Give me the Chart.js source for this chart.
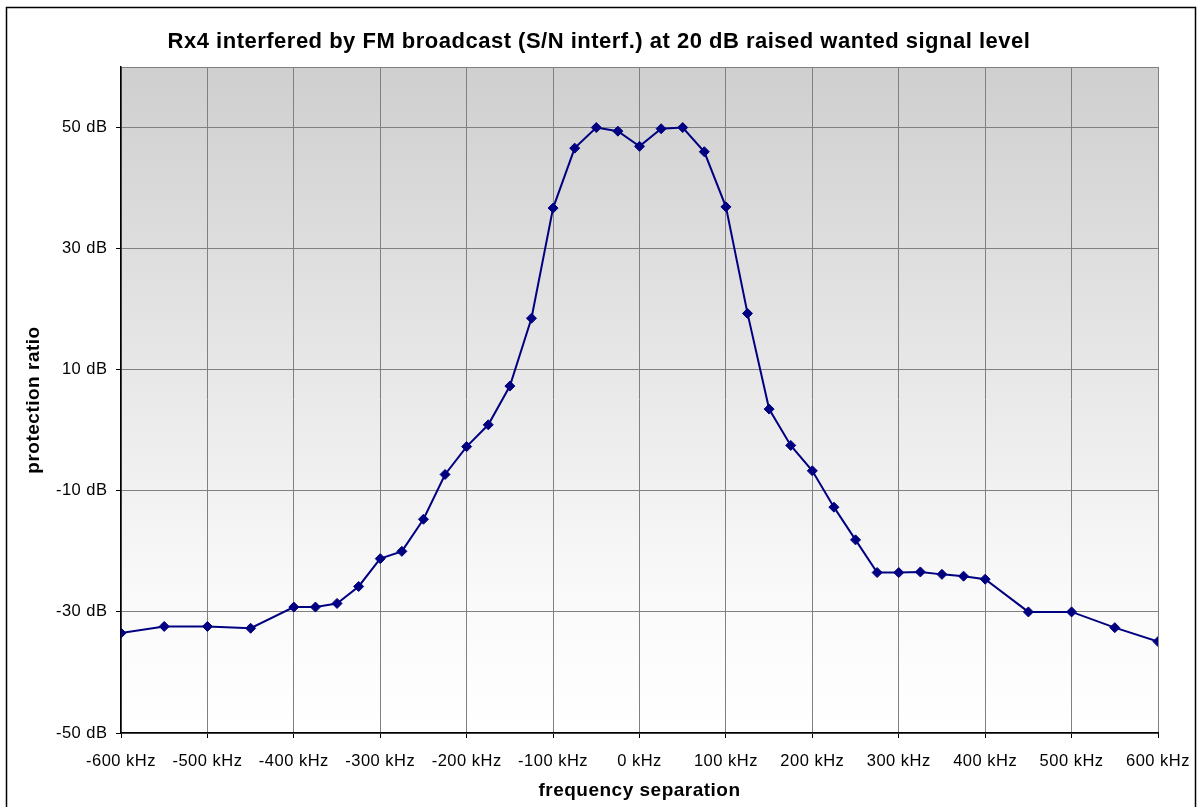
<!DOCTYPE html>
<html>
<head>
<meta charset="utf-8">
<script src="https://cdn.jsdelivr.net/npm/chart.js@4/dist/chart.umd.min.js"></script>
<style>
  html, body { margin: 0; padding: 0; background: #fff; }
  #wrap { width: 1198px; height: 807px; }
</style>
</head>
<body>
<div id="wrap"><canvas id="rxChart"></canvas></div>
<script>
// frequency separation in kHz
const freqKHz = [-600, -550, -500, -450, -400, -375, -350, -325, -300, -275, -250, -225, -200, -175, -150, -125,
    -100, -75, -50, -25, 0, 25, 50, 75, 100, 125, 150, 175, 200, 225, 250, 275, 300, 325, 350, 375, 400,
    450, 500, 550, 600];
// protection ratio in dB
const protectionDb = [-33.5, -32.4, -32.4, -32.7, -29.2, -29.2, -28.6, -25.8, -21.2, -20.0, -14.7, -7.3, -2.7, 0.9, 7.3, 18.5,
    36.7, 46.6, 50.0, 49.4, 46.9, 49.8, 50.0, 46.0, 36.9, 19.3, 3.5, -2.5, -6.7, -12.7, -18.1, -23.5, -23.5, -23.4, -23.8, -24.1, -24.6,
    -30.0, -30.0, -32.6, -34.9];
const xTicks = [-600, -500, -400, -300, -200, -100, 0, 100, 200, 300, 400, 500, 600];
const yTicks = [-50, -30, -10, 10, 30, 50];

const navy = '#000080';
const fontFamily = 'Liberation Sans, Arial, sans-serif';

// plot area gradient + frame, and the outer border of the chart
const framePlugin = {
    id: 'frame',
    beforeDraw(chart) {
        const { ctx, chartArea: a } = chart;
        // the original text is slightly wider spaced than plain Arial
        ctx.letterSpacing = '0.5px';
        const g = ctx.createLinearGradient(0, a.top, 0, a.bottom);
        g.addColorStop(0, '#cfcfcf');
        g.addColorStop(0.8, '#fafafa');
        g.addColorStop(1, '#ffffff');
        ctx.save();
        ctx.fillStyle = g;
        ctx.fillRect(a.left, a.top, a.right - a.left, a.bottom - a.top);
        ctx.strokeStyle = '#808080';
        ctx.lineWidth = 1;
        ctx.strokeRect(a.left + 0.5, a.top + 0.5, a.right - a.left, a.bottom - a.top);
        ctx.restore();
    },
    afterDraw(chart) {
        const ctx = chart.ctx;
        ctx.save();
        ctx.strokeStyle = '#000';
        ctx.lineWidth = 1.5;
        ctx.strokeRect(6.5, 7.5, 1189, 820);
        ctx.restore();
    }
};

new Chart(document.getElementById('rxChart'), {
    type: 'line',
    data: {
        labels: freqKHz,
        datasets: [{
            label: 'Rx4',
            data: freqKHz.map((f, i) => ({ x: f, y: protectionDb[i] })),
            borderColor: navy,
            backgroundColor: navy,
            borderWidth: 2,
            pointStyle: 'rectRot',
            pointRadius: 5,
            pointBorderWidth: 1,
            pointBorderColor: navy,
            tension: 0
        }]
    },
    options: {
        responsive: true,
        maintainAspectRatio: false,
        animation: false,
        layout: { padding: 0 },
        plugins: {
            legend: { display: false },
            tooltip: { enabled: false },
            title: {
                display: true,
                text: 'Rx4 interfered by FM broadcast (S/N interf.) at 20 dB raised wanted signal level',
                color: '#000',
                font: { family: fontFamily, size: 22, weight: 'bold', lineHeight: 1.2 },
                padding: { top: 29, bottom: 11.6 }
            }
        },
        scales: {
            x: {
                type: 'linear',
                min: -600,
                max: 600,
                afterBuildTicks: s => { s.ticks = xTicks.map(v => ({ value: v })); },
                afterFit: s => {
                    s.height = 74;
                    s.paddingLeft = 0;
                    s.paddingRight = 40;
                },
                ticks: {
                    autoSkip: false,
                    maxRotation: 0,
                    padding: 14,
                    color: '#000',
                    font: { family: fontFamily, size: 16.5 },
                    callback: v => v + ' kHz'
                },
                grid: { color: '#808080', tickColor: '#000', tickLength: 5, lineWidth: 1 },
                border: { color: '#000', width: 1.5 },
                title: {
                    display: true,
                    text: 'frequency separation',
                    color: '#000',
                    font: { family: fontFamily, size: 19, weight: 'bold' },
                    padding: { top: 0, bottom: 5 }
                }
            },
            y: {
                min: -50,
                max: 60,
                afterBuildTicks: s => { s.ticks = yTicks.map(v => ({ value: v })); },
                afterFit: s => { s.width = 121; },
                ticks: {
                    padding: 8.5,
                    color: '#000',
                    font: { family: fontFamily, size: 16.5 },
                    callback: v => v + ' dB'
                },
                grid: { color: '#808080', tickColor: '#000', tickLength: 5, lineWidth: 1 },
                border: { color: '#000', width: 1.5 },
                title: {
                    display: true,
                    text: 'protection ratio',
                    color: '#000',
                    font: { family: fontFamily, size: 19, weight: 'bold' },
                    padding: { top: 22, bottom: 0 }
                }
            }
        }
    },
    plugins: [framePlugin]
});
</script>
</body>
</html>
